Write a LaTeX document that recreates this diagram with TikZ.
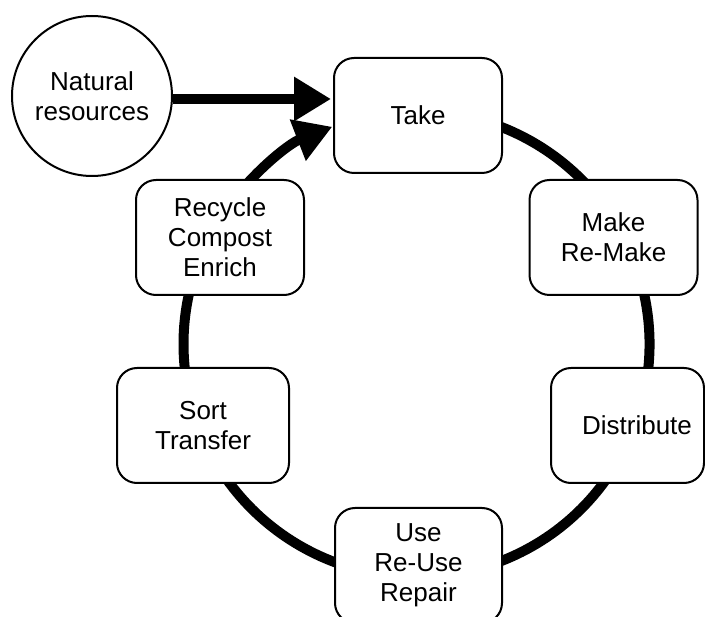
\documentclass[tikz,border=0pt]{standalone}
\usepackage{fontspec}
\setmainfont{Liberation Sans}
\usetikzlibrary{arrows.meta}
\begin{document}
\begin{tikzpicture}[x=1pt,y=-1pt,
  lbl/.style={font=\fontsize{26}{30}\selectfont, align=center},
  box/.style={lbl, draw, line width=2pt, rounded corners=20pt, fill=white,
    minimum height=115pt, minimum width=168pt, inner sep=0pt},
  srcnode/.style={lbl, circle, draw, line width=2pt, fill=white,
    minimum size=160pt, inner sep=0pt},
  ring/.style={line width=10pt},
  bigtip/.style={-{Triangle[length=37pt,width=42pt]}}
]
\useasboundingbox (0,0) rectangle (705,617);
\coordinate (ctr) at (416.5,344);
\coordinate (lvl) at (0,99);
% ring (behind the boxes)
\draw[ring] (ctr) ++(252:233) arc[start angle=252, end angle=575, radius=233];
\draw[ring, bigtip] (ctr) ++(215:233) arc[start angle=215, end angle=248.8, radius=233];
% nodes
\node[srcnode] (nat) at (92,96) {Natural\\resources};
\node[box] (take) at (418,115.5) {Take};
\node[box] (make) at (613.5,237.5) {Make\\Re-Make};
\node[box, minimum width=153pt] (dist) at (627.5,425.5) {\hspace*{19pt}Distribute};
\node[box, minimum width=167pt] (use) at (418.5,565.5) {Use\\Re-Use\\Repair};
\node[box, minimum width=172pt] (sort) at (203,425.5) {Sort\\Transfer};
\node[box] (recycle) at (220,237.5) {Recycle\\Compost\\Enrich};
% input arrow
\draw[ring, bigtip] (nat.east |- lvl) -- ([xshift=-2pt]take.west |- lvl);
\end{tikzpicture}
\end{document}
